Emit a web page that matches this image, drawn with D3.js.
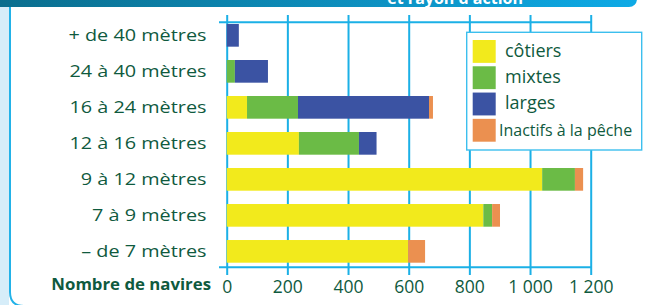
<!DOCTYPE html>
<html><head><meta charset="utf-8">
<script src="https://cdn.jsdelivr.net/npm/d3@7"></script>
<style>
html,body{margin:0;padding:0;background:#fff;}
svg{display:block;}
text{font-family:"Open Sans",sans-serif;}
</style></head>
<body>
<script>
const categories = ["+ de 40 mètres","24 à 40 mètres","16 à 24 mètres","12 à 16 mètres","9 à 12 mètres","7 à 9 mètres","– de 7 mètres"];
const cotiers  = [0, 0, 67, 238, 1040, 846, 598];
const mixtes   = [0, 27, 168, 198, 108, 29, 0];
const larges   = [40, 109, 432, 58, 0, 0, 0];
const inactifs = [0, 0, 13, 0, 27, 26, 56];
const seriesKeys = ["cotiers","mixtes","larges","inactifs"];
const seriesLabels = ["côtiers","mixtes","larges","Inactifs à la pêche"];
const tickValues = [0, 200, 400, 600, 800, 1000, 1200];
const axisTitle = "Nombre de navires";
const headerText = "et rayon d'action";

const colors = ["#f2ea1c","#6bbb46","#3b53a3","#eb9050"];
const textColor = "#0f5a3e";
const gridColor = "#1bb0e6";

const W = 645, H = 305;
const svg = d3.select("body").append("svg").attr("width", W).attr("height", H);

// frame
const defs = svg.append("defs");
const grad = defs.append("linearGradient").attr("id","hdr").attr("x1","0").attr("x2","1");
grad.append("stop").attr("offset","0").attr("stop-color","#0b6d8c");
grad.append("stop").attr("offset","1").attr("stop-color","#0eaae6");
svg.append("rect").attr("x",0).attr("y",0).attr("width",9).attr("height",H).attr("fill","#d6edf9");
svg.append("path").attr("d","M10,6 L10,292 Q10,306 24,306")
  .attr("fill","none").attr("stroke","#22b2e8").attr("stroke-width",2);
svg.append("rect").attr("x",-10).attr("y",-12).attr("width",647).attr("height",19).attr("rx",8)
  .attr("fill","url(#hdr)");
svg.append("text").attr("x",523).attr("y",3.5).attr("text-anchor","end")
  .attr("fill","#fff").attr("font-weight","bold").attr("font-size",16).text(headerText);

// scales
const x = d3.scaleLinear().domain([0,1200]).range([226.7, 590.7]);
const y = d3.scaleBand().domain(categories).range([24, 262.7]).paddingInner(0.37).paddingOuter(0);

// grid lines (vertical)
const fmt = d3.formatLocale({decimal:",", thousands:"\u00a0", grouping:[3], currency:["","€"]}).format(",d");
const grid = svg.append("g").attr("transform","translate(0,15)")
  .call(d3.axisBottom(x).tickValues(tickValues).tickSize(260).tickFormat(""));
grid.select(".domain").remove();
grid.selectAll(".tick line").attr("stroke",gridColor).attr("stroke-width",2);

// horizontal lines
[22.3, 267.3].forEach(yy => {
  svg.append("line").attr("x1",219).attr("x2",x(1200)+1).attr("y1",yy).attr("y2",yy)
    .attr("stroke",gridColor).attr("stroke-width",2);
});

// tick labels
const labAxis = svg.append("g").attr("transform","translate(0,275)")
  .call(d3.axisBottom(x).tickValues(tickValues).tickSize(0).tickPadding(0).tickFormat(fmt));
labAxis.select(".domain").remove();
labAxis.selectAll("text").attr("fill",textColor).attr("font-size",17.5)
  .attr("font-family","'Open Sans',sans-serif").attr("dy",null).attr("y",17.7);

svg.append("text").attr("x",211).attr("y",290).attr("text-anchor","end")
  .attr("fill",textColor).attr("font-weight","bold").attr("font-size",16.8).text(axisTitle);

// stacked bars
const table = categories.map((c,i) => ({cat:c, cotiers:cotiers[i], mixtes:mixtes[i], larges:larges[i], inactifs:inactifs[i]}));
const stacked = d3.stack().keys(seriesKeys)(table);
svg.append("g").selectAll("g").data(stacked).join("g")
  .attr("fill",(d,i)=>colors[i])
  .selectAll("rect").data(d=>d.filter(v=>v[1]-v[0]>0)).join("rect")
  .attr("x",d=>x(d[0])).attr("width",d=>x(d[1])-x(d[0]))
  .attr("y",d=>y(d.data.cat)).attr("height",y.bandwidth());

// category labels
svg.append("g").selectAll("text").data(categories).join("text")
  .attr("transform",d=>`translate(206.5,${y(d)+y.bandwidth()/2+5.6}) scale(1.24,1)`)
  .attr("text-anchor","end").attr("fill",textColor).attr("font-size",16).text(d=>d);

// legend
const lg = svg.append("g");
lg.append("rect").attr("x",466.7).attr("y",32.3).attr("width",175).attr("height",117.7)
  .attr("fill","#fff").attr("stroke","#3cbfee").attr("stroke-width",1.4);
const ly = d3.scaleBand().domain(seriesLabels).range([40, 141.7]).paddingInner(0.13).paddingOuter(0);
lg.selectAll("rect.sw").data(seriesLabels).join("rect").attr("class","sw")
  .attr("x",472.7).attr("width",23).attr("y",d=>ly(d)).attr("height",ly.bandwidth())
  .attr("fill",(d,i)=>colors[i]);
lg.selectAll("text").data(seriesLabels).join("text")
  .attr("x",(d,i)=>i===3?499:505).attr("y",d=>ly(d)+ly.bandwidth()/2+5.5)
  .attr("fill",textColor).attr("font-size",(d,i)=>i===3?16:18).text(d=>d);
</script>
</body></html>
